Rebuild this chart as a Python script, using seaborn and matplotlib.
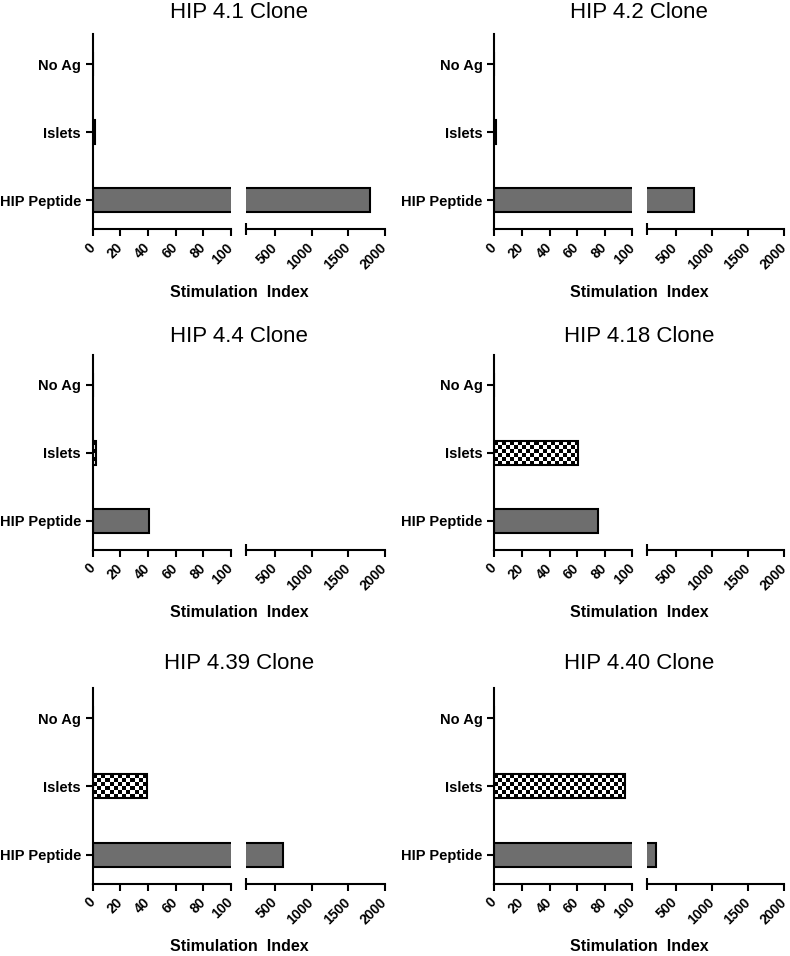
import numpy as np
import pandas as pd
import matplotlib.pyplot as plt
import seaborn as sns

clones = ['HIP 4.1 Clone', 'HIP 4.2 Clone', 'HIP 4.4 Clone',
          'HIP 4.18 Clone', 'HIP 4.39 Clone', 'HIP 4.40 Clone']
antigens = ['No Ag', 'Islets', 'HIP Peptide']
no_ag = [0, 0, 0, 0, 0, 0]
islets = [1.5, 1.2, 2.5, 61, 39, 95]
hip_peptide = [1800, 760, 41, 75, 615, 230]

left_ticks = [0, 20, 40, 60, 80, 100]
right_ticks = [500, 1000, 1500, 2000]

sns.set_style('ticks', {'axes.edgecolor': 'black', 'text.color': 'black',
                        'xtick.color': 'black', 'ytick.color': 'black',
                        'axes.labelcolor': 'black'})
plt.rcParams['font.family'] = ['Liberation Sans', 'DejaVu Sans']

W, H = 790, 956
fig = plt.figure(figsize=(W / 100, H / 100), dpi=100)

# pixel layout of the broken axes (left part, right part) per column / row
cols = [(92.7, 231, 245.7, 385), (494.3, 632.3, 646.7, 784.3)]
rows = [(34, 229), (355, 549.5), (688, 883.5)]
title_base = [18.5, 341.5, 669]

palette = {'No Ag': '#6e6e6e', 'Islets': 'white', 'HIP Peptide': '#6e6e6e'}
LW = 1.5


def rect(x0, x1, yt, yb):
    return [x0 / W, 1 - yb / H, (x1 - x0) / W, (yb - yt) / H]


def checker_fill(ax, patch, size_px=4):
    # checkerboard texture inside a bar, clipped to the bar
    x0, y0 = patch.get_x(), patch.get_y()
    w, h = patch.get_width(), patch.get_height()
    p0 = ax.transData.transform((x0, y0))
    p1 = ax.transData.transform((x0 + w, y0 + h))
    nc = max(1, int(round(abs(p1[0] - p0[0]) / size_px)))
    nr = max(1, int(round(abs(p1[1] - p0[1]) / size_px)))
    board = np.indices((nr, nc)).sum(axis=0) % 2
    im = ax.imshow(board, cmap='gray', vmin=0, vmax=1, aspect='auto',
                   interpolation='nearest', extent=(x0, x0 + w, y0 + h, y0),
                   zorder=patch.get_zorder() - 0.5)
    im.set_clip_path(patch)
    patch.set_facecolor('none')


for i, clone in enumerate(clones):
    c = cols[i % 2]
    r = rows[i // 2]
    axl = fig.add_axes(rect(c[0], c[1], r[0], r[1]))
    axr = fig.add_axes(rect(c[2], c[3], r[0], r[1]))
    df = pd.DataFrame({'Antigen': antigens,
                       'SI': [no_ag[i], islets[i], hip_peptide[i]]})

    for ax in (axl, axr):
        sns.barplot(data=df, x='SI', y='Antigen', hue='Antigen', order=antigens,
                    palette=palette, saturation=1, width=0.35, errorbar=None,
                    edgecolor='black', linewidth=LW, legend=False, ax=ax)
        ax.set_ylim(2.42, -0.44)
        ax.set_xlabel('')
        ax.set_ylabel('')
        for s in ax.spines.values():
            s.set_linewidth(LW)
            s.set_color('black')
        ax.tick_params(width=LW, length=5, color='black', labelcolor='black')
        ax.tick_params(axis='x', pad=7)

    axl.set_xlim(0, 100)
    axr.set_xlim(100, 2000)
    # bars that end before the break are only shown in the left part
    for p in axr.patches:
        if p.get_width() <= 100:
            p.set_visible(False)

    # checkered bar for islets
    k = antigens.index('Islets')
    for p in list(axl.patches):
        if abs(p.get_y() + p.get_height() / 2 - k) < 0.01 and p.get_width() > 0:
            checker_fill(axl, p)
    axl.set_xlim(0, 100)
    axl.set_ylim(2.42, -0.44)

    sns.despine(ax=axl)
    sns.despine(ax=axr, left=True)
    axr.tick_params(axis='y', left=False, labelleft=False)

    for ax, ticks in ((axl, left_ticks), (axr, right_ticks)):
        ax.set_xticks(ticks)
        ax.set_xticklabels([str(t) for t in ticks], rotation=45, ha='right',
                           va='center', rotation_mode='anchor', fontsize=10,
                           fontweight='bold', color='black')
    axl.set_yticks(range(len(antigens)))
    axl.set_yticklabels(antigens, fontsize=10.5, fontweight='bold',
                        color='black')

    # break marks
    axl.set_xticks([100], minor=True)
    axr.set_xticks([100], minor=True)
    for ax in (axl, axr):
        ax.tick_params(axis='x', which='minor', direction='inout', length=8,
                       width=LW, color='black')

    xc = (c[0] + c[3]) / 2 / W
    fig.text(xc, 1 - title_base[i // 2] / H, clone, ha='center', va='baseline',
             fontsize=16, color='black')
    fig.text(xc, 1 - (r[1] + 63) / H, 'Stimulation  Index', ha='center',
             va='center', fontsize=11.5, fontweight='bold', color='black')

fig.savefig('out.png', dpi=100)
